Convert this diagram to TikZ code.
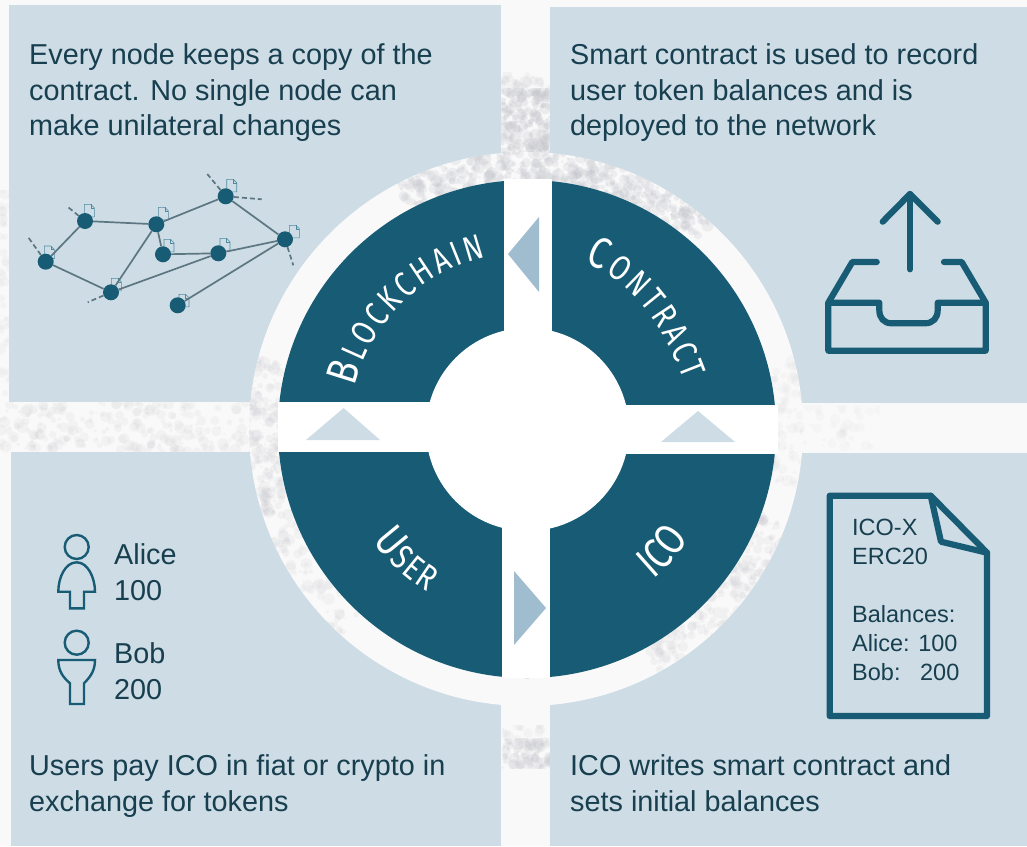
\documentclass[tikz,border=0pt]{standalone}
\usepackage{fontspec}
\usetikzlibrary{decorations.text}
\setmainfont{Liberation Sans}
\newfontfamily\quadfont[FakeStretch=0.8]{Fira Sans}
\definecolor{panelc}{HTML}{CEDCE5}
\definecolor{darkc}{HTML}{175C74}
\definecolor{textc}{HTML}{173F4F}
\definecolor{bgc}{HTML}{F9F9F9}
\definecolor{trileft}{HTML}{A0BCCF}
\definecolor{netline}{HTML}{5C7782}
\definecolor{docc}{HTML}{4F8BA0}
\definecolor{marble}{HTML}{C4C5CC}
\newcommand{\bigq}{\color{white}\quadfont\fontsize{44}{44}\selectfont}
\newcommand{\smq}{\color{white}\quadfont\fontsize{35}{35}\selectfont}
\newcommand{\rectspeck}[6]{%
  \begin{scope}
    \clip (#1,#2) rectangle (#3,#4);
    \foreach \i in {1,...,#5}{%
      \pgfmathsetmacro\px{#1+rnd*(#3-#1)}%
      \pgfmathsetmacro\py{#2+rnd*(#4-#2)}%
      \pgfmathsetmacro\pr{1+rnd*5}%
      \fill[marble,opacity=#6] (\px,\py) circle[radius=\pr];
    }
  \end{scope}}
\newcommand{\ringspeck}[4]{%
  \foreach \i in {1,...,#3}{%
    \pgfmathsetmacro\pa{#1+rnd*(#2-#1)}%
    \pgfmathsetmacro\pd{247+rnd*32}%
    \pgfmathsetmacro\pr{1+rnd*5}%
    \fill[marble,opacity=#4] ({526+\pd*cos(\pa)},{-429+\pd*sin(\pa)}) circle[radius=\pr];
  }}
\tikzset{
  panel/.style={fill=panelc,draw=none},
  body/.style={anchor=north west,inner sep=0pt,align=left,text=textc,font=\fontsize{28.8}{35.7}\selectfont},
  small/.style={anchor=north west,inner sep=0pt,align=left,text=textc,font=\fontsize{23.5}{29}\selectfont},
  netnode/.style={circle,fill=darkc,draw=none,inner sep=0pt,minimum size=16pt},
  netedge/.style={draw=netline,line width=1.7pt},
  netdash/.style={draw=netline,line width=1.7pt,dash pattern=on 5pt off 3pt},
  docline/.style={draw=docc,line width=0.6pt,fill=none},
  iconline/.style={draw=darkc,line width=6.2pt,line cap=round,line join=round},
  personline/.style={draw=darkc,line width=2.4pt,line join=miter},
  docicon/.pic={\draw[docline] (0,0) -- (6.5,0) -- (10,-3.5) -- (10,-12.5) -- (0,-12.5) -- cycle;
                \draw[docline] (6.5,0) -- (6.5,-3.5) -- (10,-3.5);}
}
\begin{document}
\begin{tikzpicture}[x=1pt,y=1pt]
\pgfmathsetseed{4242}
\useasboundingbox (0,-846) rectangle (1027,0);
\fill[bgc] (0,-846) rectangle (1027,0);
% marble in the gaps
\rectspeck{501}{-95}{550}{-72}{30}{0.14}
\rectspeck{501}{-160}{550}{-88}{190}{0.25}
\rectspeck{0}{-452}{280}{-402}{260}{0.13}
\rectspeck{0}{-400}{11}{-190}{40}{0.1}
\rectspeck{778}{-453}{880}{-405}{50}{0.06}
\rectspeck{502}{-745}{550}{-725}{20}{0.1}
\rectspeck{502}{-768}{550}{-738}{80}{0.2}
% panels
\fill[panel] (9,-402) rectangle (501,-5);
\fill[panel] (550,-403) rectangle (1027,-7);
\fill[panel] (11,-846) rectangle (501,-452);
\fill[panel] (550,-846) rectangle (1027,-453);
% ring
\fill[bgc] (526,-429) circle[radius=277];
\begin{scope}
  \clip (526,-429) circle[radius=277];
  \ringspeck{48}{118}{420}{0.22}
  \ringspeck{165}{200}{160}{0.14}
  \ringspeck{200}{228}{70}{0.12}
  \ringspeck{-12}{15}{70}{0.09}
  \ringspeck{-62}{-20}{170}{0.14}
\end{scope}
% wheel
\fill[darkc] (527,-429) circle[radius=249];
\fill[white] (504,-402) rectangle (552,-179);
\fill[white] (502,-678) rectangle (550,-452);
\fill[white] (277.5,-452) rectangle (527,-402);
\fill[white] (527,-454) rectangle (777.5,-405);
\fill[white] (527.5,-429.5) circle[radius=101.5];
% triangles
\fill[trileft] (508,-254) -- (539,-217) -- (539,-292) -- cycle;
\fill[panelc] (343.6,-408) -- (306,-440) -- (380,-440) -- cycle;
\fill[panelc] (698,-411) -- (661,-442) -- (735,-442) -- cycle;
\fill[trileft] (514,-571) -- (514,-645) -- (546,-608) -- cycle;
% quadrant labels
\path[decorate,decoration={text along path,text align={fit to path},
  text={|\bigq|B|\smq|LOCKCHAIN}}]
  (527,-429) ++(166:177) arc[start angle=166,end angle=103.5,radius=177];
\path[decorate,decoration={text along path,text align={fit to path},
  text={|\bigq|C|\smq|ONTRACT}}]
  (584.6,-263) .. controls (633.6,-280) and (666,-331) .. (684,-380);
\path[decorate,decoration={text along path,text align={fit to path},
  text={|\bigq|U|\smq|SER}}]
  (527,-429) ++(216:191) arc[start angle=216,end angle=238.5,radius=191];
\path[decorate,decoration={text along path,text align={fit to path},
  text={|\bigq|ICO}}]
  (527,-429) ++(-50:196) arc[start angle=-50,end angle=-34,radius=196];
% captions
\node[body] (capTL) at (29,-43.5) {Every node keeps a copy of the\\contract. No single node can\\make unilateral changes};
\node[body] (capTR) at (570,-43.5) {Smart contract is used to record\\user token balances and is\\deployed to the network};
\node[body] (capBL) at (29,-754.5) {Users pay ICO in fiat or crypto in\\exchange for tokens};
\node[body] (capBR) at (570,-754.5) {ICO writes smart contract and\\sets initial balances};
% network
\pic at (44.3,-246) {docicon};
\pic at (84.3,-204.3) {docicon};
\pic at (158.3,-207.3) {docicon};
\pic at (226.7,-179.3) {docicon};
\pic at (289.3,-225.3) {docicon};
\pic at (164,-239.3) {docicon};
\pic at (220,-238.3) {docicon};
\pic at (111.3,-278.3) {docicon};
\pic at (179,-294.3) {docicon};
\node[netnode] (na) at (45.7,-261.7) {};
\node[netnode] (nb) at (85,-221) {};
\node[netnode] (nc) at (156.3,-224.3) {};
\node[netnode] (nd) at (225.7,-196.3) {};
\node[netnode] (ne) at (285,-239.3) {};
\node[netnode] (nf) at (163,-254.3) {};
\node[netnode] (ng) at (218.3,-253.3) {};
\node[netnode] (nh) at (111,-292.3) {};
\node[netnode] (ni) at (177.7,-305.3) {};
\coordinate (da) at (27.3,-236);
\coordinate (db) at (66.7,-206);
\coordinate (dd1) at (207.3,-174);
\coordinate (dd2) at (261.7,-199.3);
\coordinate (de) at (293.3,-265.3);
\coordinate (dh) at (87.7,-302.3);
\draw[netedge] (na)--(nb);
\draw[netedge] (na)--(nh);
\draw[netedge] (nb)--(nc);
\draw[netedge] (nc)--(nd);
\draw[netedge] (nd)--(ne);
\draw[netedge] (nc)--(nf);
\draw[netedge] (nf)--(ng);
\draw[netedge] (ng)--(ne);
\draw[netedge] (nc)--(nh);
\draw[netedge] (nh)--(ng);
\draw[netedge] (ni)--(ne);
\draw[netdash] (na)--(da);
\draw[netdash] (nb)--(db);
\draw[netdash] (nd)--(dd1);
\draw[netdash] (nd)--(dd2);
\draw[netdash] (ne)--(de);
\draw[netdash] (nh)--(dh);
% upload icon
\draw[iconline] (910,-269.3) -- (910,-194);
\draw[iconline] (882.7,-221.7) -- (910,-194) -- (937.7,-221.7);
\draw[iconline] (876.7,-262) -- (852.3,-262) -- (828.3,-302.7);
\draw[iconline] (944,-262) -- (961.7,-262) -- (985.7,-302.7);
\draw[iconline] (828.3,-302.7) -- (828.3,-350.7) -- (985.7,-350.7) -- (985.7,-302.7) -- (937.7,-302.7) -- (937.7,-310)
  .. controls (937.7,-318) and (933,-323.3) .. (925,-323.3) -- (891.7,-323.3)
  .. controls (884,-323.3) and (879.3,-318) .. (879.3,-310) -- (879.3,-302.7) -- cycle;
% contract document icon
\draw[iconline] (829.7,-495.7) -- (930.7,-495.7) -- (987,-552.7) -- (987,-716) -- (829.7,-716) -- cycle;
\draw[iconline] (930.7,-495.7) -- (941,-541.7) -- (987,-552.7);
\node[small] (docTxt) at (852,-519) {ICO-X\\ERC20\\[29pt]Balances:\\Alice: 100\\Bob:\ \ \ 200};
% people
\draw[personline] (76.7,-547) circle[radius=12];
\draw[personline] (76.7,-562.3) .. controls (88,-562.3) and (95,-578) .. (95,-591.7) -- (84,-591.7) -- (84,-608.3) -- (70,-608.3) -- (70,-591.7) -- (58.3,-591.7) .. controls (58.3,-578) and (65,-562.3) .. (76.7,-562.3) -- cycle;
\draw[personline] (76.7,-642.7) circle[radius=12];
\draw[personline] (58.3,-660) -- (95,-660) .. controls (95,-672) and (89,-678) .. (84,-683.3) -- (84,-704) -- (70,-704) -- (70,-683.3) .. controls (64,-678) and (58.3,-672) .. (58.3,-660) -- cycle;
\node[body] (alice) at (114,-543.5) {Alice\\100};
\node[body] (bob) at (114,-642.5) {Bob\\200};
\end{tikzpicture}
\end{document}
